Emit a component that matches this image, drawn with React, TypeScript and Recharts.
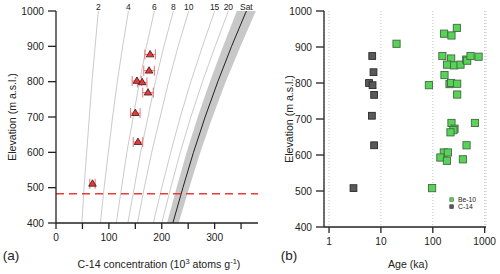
import React from 'react';
import {
  ComposedChart,
  Line,
  Area,
  Scatter,
  XAxis,
  YAxis,
  ReferenceLine,
  ErrorBar,
  CartesianGrid,
  LabelList,
} from 'recharts';

const FONT = '"Liberation Sans", Arial, Helvetica, sans-serif';

// ---------- Panel (a): C-14 isochrons ----------
const elevations = [400, 500, 600, 700, 800, 900, 1000];
const iso2 = [49, 53, 58, 63, 68, 74, 80];
const iso4 = [84, 91, 99, 107, 116, 126, 137];
const iso6 = [114, 124, 134, 146, 158, 171, 186];
const iso8 = [136, 148, 160, 174, 188, 204, 222];
const iso10 = [154, 167, 181, 197, 213, 231, 251];
const iso15 = [184, 200, 217, 235, 255, 277, 300];
const iso20 = [200, 217, 235, 255, 277, 301, 326];
const satMid = [221, 240, 260, 282, 306, 332, 360];
const satLo = [210, 228, 247, 268, 291, 316, 342];
const satHi = [232, 252, 273, 296, 321, 349, 378];
const isoKeys = ['l2', 'l4', 'l6', 'l8', 'l10', 'l15', 'l20'];
const isoLabels = ['2', '4', '6', '8', '10', '15', '20'];
const satLabel = 'Sat';

const sampleElev = [877, 831, 802, 798, 769, 711, 629, 511];
const sampleC14 = [178, 176, 153, 163, 174, 150, 155, 69];
const sampleErr = [10, 10, 9, 9, 10, 9, 9, 5];
const cutoffElev = 483;

const xTicksA = [0, 50, 100, 150, 200, 250, 300, 350];
const yTicks = [400, 500, 600, 700, 800, 900, 1000];

// ---------- Panel (b): ages ----------
const be10Age = [20, 165, 229, 291, 153, 226, 189, 258, 342, 441, 460, 533, 762, 168, 84, 210, 225, 295, 295, 229, 649, 262, 250, 219, 447, 163, 195, 140, 187, 380, 97];
const be10Elev = [909, 937, 932, 953, 875, 868, 851, 849, 851, 865, 862, 875, 873, 822, 794, 797, 800, 798, 768, 689, 689, 673, 669, 663, 627, 607, 607, 593, 584, 588, 508];
const c14Age = [6.8, 7.2, 5.9, 6.9, 7.4, 6.7, 7.4, 2.96];
const c14Elev = [875, 830, 800, 794, 767, 709, 627, 508];
const xTicksB = [1, 10, 100, 1000];

const curveTable = elevations.map((e, i) => ({
  e,
  l2: iso2[i],
  l4: iso4[i],
  l6: iso6[i],
  l8: iso8[i],
  l10: iso10[i],
  l15: iso15[i],
  l20: iso20[i],
  sat: satMid[i],
  band: [satLo[i], satHi[i]],
}));
const triData = sampleElev.map((e, i) => ({ e, c: sampleC14[i], err: sampleErr[i] }));
const be10Data = be10Age.map((a, i) => ({ age: a, e: be10Elev[i] }));
const c14Data = c14Age.map((a, i) => ({ age: a, e: c14Elev[i] }));

const tickStyle = { fill: '#222', fontSize: 10.2, fontFamily: FONT };

const makeTopLabel = (text: string) => (p: any) => {
  if (p.index !== elevations.length - 1) return null;
  const x = p.x ?? p.viewBox?.x;
  const y = p.y ?? p.viewBox?.y;
  return (
    <text x={x} y={y - 1} textAnchor="middle" fontSize={8.5} fill="#222" fontFamily={FONT}>
      {text}
    </text>
  );
};

const Triangle = (props: any) => {
  const { cx, cy } = props;
  if (cx == null || cy == null) return null;
  return (
    <polygon
      points={`${cx - 3.8},${cy + 2.4} ${cx + 3.8},${cy + 2.4} ${cx},${cy - 4}`}
      fill="#e53a3a"
      stroke="#3a1818"
      strokeWidth={0.8}
    />
  );
};

const GreenSquare = (props: any) => {
  const { cx, cy } = props;
  if (cx == null || cy == null) return null;
  return <rect x={cx - 3.6} y={cy - 3.6} width={7.2} height={7.2} fill="#55d455" stroke="#486648" strokeWidth={0.9} />;
};

const GraySquare = (props: any) => {
  const { cx, cy } = props;
  if (cx == null || cy == null) return null;
  return <rect x={cx - 3.4} y={cy - 3.4} width={6.8} height={6.8} fill="#5a5a5a" stroke="#2a2a2a" strokeWidth={0.9} />;
};

export default function App() {
  return (
    <div style={{ position: 'absolute', left: 0, top: 0, width: 500, height: 274, background: '#fff', fontFamily: FONT }}>
      <div style={{ position: 'absolute', left: 0, top: 0 }}>
        <ComposedChart
          layout="vertical"
          width={262}
          height={274}
          data={curveTable}
          margin={{ top: 11, right: 4, bottom: 21, left: 0 }}
        >
          <XAxis
            type="number"
            dataKey="c"
            domain={[0, 382]}
            allowDataOverflow
            ticks={xTicksA}
            interval={0}
            tickFormatter={(v: number) => (v % 100 === 0 ? String(v) : '')}
            height={30}
            tickSize={6}
            tickMargin={5}
            stroke="#222"
            strokeWidth={1.3}
            tick={tickStyle}
          />
          <YAxis
            type="number"
            dataKey="e"
            domain={[400, 1000]}
            allowDataOverflow
            reversed
            ticks={yTicks}
            interval={0}
            width={56}
            tickSize={8}
            tickMargin={4}
            stroke="#222"
            strokeWidth={1.3}
            tick={tickStyle}
          />
          <Area dataKey="band" fill="#c8c8c8" fillOpacity={1} stroke="none" isAnimationActive={false} />
          {isoKeys.map((k, i) => (
            <Line
              key={k}
              dataKey={k}
              stroke="#bcbcbc"
              strokeWidth={0.8}
              dot={false}
              isAnimationActive={false}
            >
              <LabelList dataKey="e" content={makeTopLabel(isoLabels[i])} />
            </Line>
          ))}
          <Line dataKey="sat" stroke="#222" strokeWidth={1} dot={false} isAnimationActive={false}>
            <LabelList dataKey="e" content={makeTopLabel(satLabel)} />
          </Line>
          <ReferenceLine y={cutoffElev} stroke="#ec3a36" strokeWidth={1.5} strokeDasharray="8 5" />
          <Scatter data={triData} shape={Triangle} isAnimationActive={false}>
            <ErrorBar dataKey="err" direction="x" width={5} stroke="#f07070" strokeWidth={1} />
          </Scatter>
        </ComposedChart>
      </div>

      <div style={{ position: 'absolute', left: 262, top: 0 }}>
        <ComposedChart width={238} height={274} margin={{ top: 11, right: 14, bottom: 17, left: 0 }}>
          <CartesianGrid horizontal={false} stroke="#c4c4c4" strokeDasharray="1 2" />
          <XAxis
            type="number"
            dataKey="age"
            scale="log"
            domain={[0.8, 1060]}
            allowDataOverflow
            ticks={xTicksB}
            interval={0}
            height={30}
            tickSize={6}
            tickMargin={5}
            stroke="#222"
            strokeWidth={1.3}
            tick={tickStyle}
          />
          <YAxis
            type="number"
            dataKey="e"
            domain={[400, 1000]}
            allowDataOverflow
            ticks={yTicks}
            interval={0}
            width={62}
            tickSize={8}
            tickMargin={4}
            stroke="#222"
            strokeWidth={1.3}
            tick={tickStyle}
          />
          <Scatter data={c14Data} shape={GraySquare} isAnimationActive={false} />
          <Scatter data={be10Data} shape={GreenSquare} isAnimationActive={false} />
        </ComposedChart>
      </div>

      <svg
        width={500}
        height={274}
        style={{ position: 'absolute', left: 0, top: 0, pointerEvents: 'none' }}
        fontFamily={FONT}
        fill="#222"
      >
        <text transform="translate(12,117) rotate(-90)" textAnchor="middle" dominantBaseline="central" fontSize={10.6}>
          Elevation (m a.s.l.)
        </text>
        <text transform="translate(289,119) rotate(-90)" textAnchor="middle" dominantBaseline="central" fontSize={10.6}>
          Elevation (m a.s.l.)
        </text>
        <text x={159} y={268} textAnchor="middle" fontSize={10.6}>
          C-14 concentration (10
          <tspan dy={-4} fontSize={7.5}>3</tspan>
          <tspan dy={4}> atoms g</tspan>
          <tspan dy={-4} fontSize={7.5}>-1</tspan>
          <tspan dy={4}>)</tspan>
        </text>
        <text x={408} y={268} textAnchor="middle" fontSize={10.6}>
          Age (ka)
        </text>
        <text x={11} y={259.5} textAnchor="middle" fontSize={13.5}>
          (a)
        </text>
        <text x={289} y={259.5} textAnchor="middle" fontSize={13.5}>
          (b)
        </text>
        <rect x={449.8} y={197.8} width={3.6} height={3.6} fill="#55d455" stroke="#486648" strokeWidth={0.6} />
        <text x={458} y={199.6} dominantBaseline="central" fontSize={6.8}>
          Be-10
        </text>
        <rect x={449.8} y={204.8} width={3.6} height={3.6} fill="#5a5a5a" stroke="#2a2a2a" strokeWidth={0.6} />
        <text x={458} y={206.6} dominantBaseline="central" fontSize={6.8}>
          C-14
        </text>
      </svg>
    </div>
  );
}
